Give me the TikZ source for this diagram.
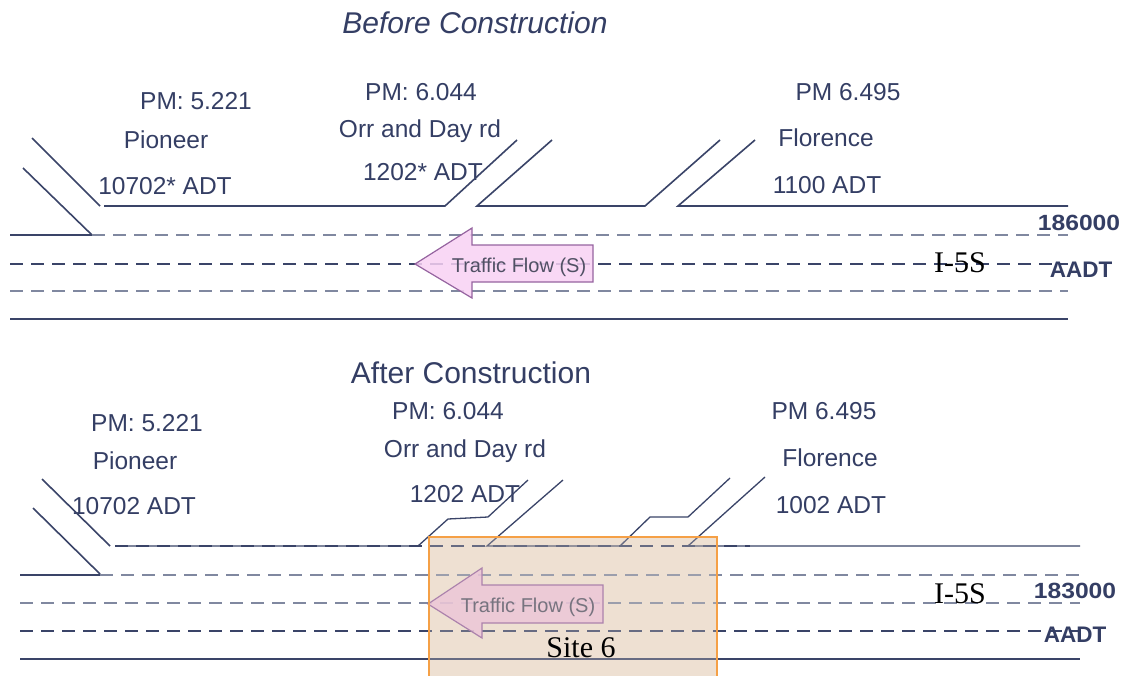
\documentclass[tikz,border=0pt]{standalone}
\usepackage{fontspec}
\setmainfont{Liberation Sans}
\newfontfamily\serifr{Liberation Serif}
\definecolor{txt}{RGB}{52,62,100}
\definecolor{lnd}{RGB}{58,68,104}
\definecolor{lng}{RGB}{128,136,160}
\definecolor{arrf}{RGB}{248,210,244}
\definecolor{arrd}{RGB}{150,100,160}
\definecolor{boxf}{RGB}{238,224,210}
\definecolor{boxd}{RGB}{245,160,70}
\begin{document}
\begin{tikzpicture}[x=1pt,y=-1pt,
  lbl/.style={anchor=base,inner sep=0pt,text=txt,font=\fontsize{24.5}{26}\selectfont},
  ttl/.style={anchor=base,inner sep=0pt,text=txt,font=\fontsize{30}{32}\selectfont},
  aadt/.style={anchor=base,inner sep=0pt,text=txt,font=\fontsize{22}{24}\selectfont\bfseries},
  ser/.style={anchor=base,inner sep=0pt,text=black,font=\serifr\fontsize{30}{32}\selectfont},
  flow/.style={anchor=base,inner sep=0pt,text={rgb,255:red,80;green,80;blue,100},font=\fontsize{20}{22}\selectfont},
  road/.style={draw=lnd,line width=1.6pt},
  dashd/.style={draw=lnd,line width=1.8pt,dash pattern=on 13pt off 8pt},
  dashg/.style={draw=lng,line width=2pt,dash pattern=on 13pt off 8pt},
  arrowshape/.style={draw=arrd,line width=1.2pt,fill=arrf,fill opacity=0.85},
]
\useasboundingbox (0,0) rectangle (1122,675);
\fill[white] (0,0) rectangle (1122,675);

% site box background (drawn first so lines and arrow show through)
\fill[boxf] (429,537) rectangle (717,677);

% ---------- Before construction ----------
\node[ttl,font=\fontsize{30}{32}\selectfont\itshape] (t1) at (475,33) {Before Construction};
\node[lbl] (p1) at (196,109) {PM: 5.221};
\node[lbl] (n1) at (166,148) {Pioneer};
\node[lbl] (a1) at (165,194) {10702* ADT};
\node[lbl] (p2) at (421,100) {PM: 6.044};
\node[lbl] (n2) at (420,137) {Orr and Day rd};
\node[lbl] (a2) at (423,180) {1202* ADT};
\node[lbl] (p3) at (848,100) {PM\ 6.495};
\node[lbl] (n3) at (826,146) {Florence};
\node[lbl] (a3) at (827,193) {1100 ADT};

\draw[road] (32,138) -- (100,206);
\draw[road] (23,168) -- (92,235);
\draw[road] (104,206) -- (445,206) -- (517,140);
\draw[road] (552,140) -- (477,206) -- (645,206) -- (720,140);
\draw[road] (755,140) -- (678,206) -- (1068,206);
\draw[road] (10,235) -- (92,235);
\draw[dashg] (92,235) -- (1068,235);
\draw[dashd] (10,264) -- (1068,264);
\draw[dashg] (10,291) -- (1068,291);
\draw[road] (10,319) -- (1068,319);

\draw[arrowshape] (415,264) -- (472,228) -- (472,245) -- (593,245) -- (593,282) -- (472,282) -- (472,298) -- cycle;
\node[flow] (f1) at (519,272) {Traffic Flow (S)};

\node[aadt] (v1) at (1079,230) {\scalebox{1.12}[1]{186000}};
\node[aadt,font=\fontsize{22.5}{24}\selectfont\bfseries] (u1) at (1081,277) {AADT};
\node[ser] (i1) at (960,272) {I-5S};

% ---------- After construction ----------
\node[ttl] (t2) at (471,383) {After Construction};
\node[lbl] (p4) at (147,431) {PM: 5.221};
\node[lbl] (n4) at (135,469) {Pioneer};
\node[lbl] (a4) at (134,514) {10702 ADT};
\node[lbl] (p5) at (448,419) {PM: 6.044};
\node[lbl] (n5) at (465,457) {Orr and Day rd};
\node[lbl] (a5) at (465,502) {1202 ADT};
\node[lbl] (p6) at (824,419) {PM\ 6.495};
\node[lbl] (n6) at (830,466) {Florence};
\node[lbl] (a6) at (831,513) {1002 ADT};

\draw[road] (42,479) -- (110,546);
\draw[road] (33,508) -- (100,574);
\draw[road,line width=1.3pt] (115,546) -- (418,546) -- (448,519) -- (488,517) -- (528,480);
\draw[road,line width=1.3pt] (563,480) -- (487,546) -- (620,546) -- (650,517) -- (688,517) -- (730,478);
\draw[road,line width=1.3pt] (765,477) -- (688,546) -- (1080,546);
\draw[dashd] (115,546) -- (750,546);
\draw[road] (20,575) -- (100,575);
\draw[dashg] (100,575) -- (1080,575);
\draw[dashg] (20,603) -- (1080,603);
\draw[dashd] (20,631) -- (1080,631);
\draw[road] (20,659) -- (1080,659);

\draw[arrowshape,fill={rgb,255:red,236;green,190;blue,218}] (428,604) -- (482,568) -- (482,585) -- (603,585) -- (603,623) -- (482,623) -- (482,638) -- cycle;
\node[flow] (f2) at (528,612) {Traffic Flow (S)};

\node[aadt] (v2) at (1075,598) {\scalebox{1.12}[1]{183000}};
\node[aadt,font=\fontsize{22.5}{24}\selectfont\bfseries] (u2) at (1075,642) {AADT};
\node[ser] (i2) at (960,603) {I-5S};

\fill[boxf,opacity=0.25] (429,537) rectangle (717,677);
\draw[boxd,line width=1.5pt] (429,677) -- (429,537) -- (717,537) -- (717,677);
\node[ser] (s6) at (581,657) {Site 6};
\end{tikzpicture}
\end{document}
